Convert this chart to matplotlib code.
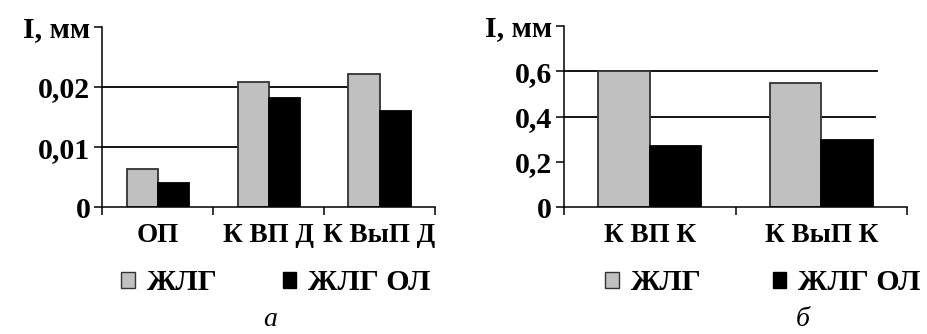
import numpy as np
import matplotlib.pyplot as plt
from matplotlib.patches import Patch

plt.rcParams['font.family'] = ['Liberation Serif', 'DejaVu Serif']
plt.rcParams['font.weight'] = 'bold'
plt.rcParams['font.size'] = 20

# данные (а)
cat_a = ['ОП', 'К ВП Д', 'К ВыП Д']
zhlg_a = [0.0063, 0.0209, 0.0222]
zhlg_ol_a = [0.0040, 0.0181, 0.0160]
yt_a = [0, 0.01, 0.02, 0.03]
ytl_a = ['0', '0,01', '0,02', 'I, мм']

# данные (б)
cat_b = ['К ВП К', 'К ВыП К']
zhlg_b = [0.600, 0.549]
zhlg_ol_b = [0.268, 0.295]
yt_b = [0, 0.2, 0.4, 0.6, 0.8]
ytl_b = ['0', '0,2', '0,4', '0,6', 'I, мм']

series = ['ЖЛГ', 'ЖЛГ ОЛ']
gray = '#c0c0c0'

fig = plt.figure(figsize=(9.28, 3.34), dpi=100)
ax1 = fig.add_axes([0.1102, 0.3793, 0.3585, 0.5407])
ax2 = fig.add_axes([0.6078, 0.3793, 0.3696, 0.5437])


def draw(ax, cats, s1, s2, yt, ytl, w, grid):
    x = np.arange(len(cats))
    for y, xmax in grid:
        ax.axhline(y, xmin=0, xmax=xmax, color='black', lw=1.3, zorder=1)
    ax.bar(x - w / 2, s1, w, color=gray, edgecolor='#333333', lw=1.3, zorder=2)
    ax.bar(x + w / 2, s2, w, color='black', edgecolor='black', lw=1.3, zorder=2)
    ax.set_xlim(-0.5, len(cats) - 0.5)
    ax.set_ylim(yt[0], yt[-1])
    ax.set_yticks(yt)
    ax.set_yticklabels(ytl, fontsize=21.5)
    ax.set_xticks(x)
    ax.set_xticklabels(cats, fontsize=19.5)
    ax.set_xticks(np.arange(len(cats) + 1) - 0.5, minor=True)
    ax.tick_params(axis='x', which='major', length=0, pad=11)
    ax.tick_params(axis='x', which='minor', direction='out', length=5.5, width=1.1)
    ax.tick_params(axis='y', direction='out', length=5.5, width=1.1, pad=3)
    for s in ['top', 'right']:
        ax.spines[s].set_visible(False)
    for s in ['left', 'bottom']:
        ax.spines[s].set_linewidth(1.1)


draw(ax1, cat_a, zhlg_a, zhlg_ol_a, yt_a, ytl_a, 0.28, [(0.01, 0.404), (0.02, 0.735)])
draw(ax2, cat_b, zhlg_b, zhlg_ol_b, yt_b, ytl_b, 0.30, [(0.4, 0.906), (0.6, 0.912)])

handles = [Patch(facecolor=gray, edgecolor='#333333', lw=1.0),
           Patch(facecolor='black', edgecolor='black', lw=1.0)]
for ax, cx, cs in [(ax1, 276 / 928, 2.2), (ax2, 763 / 928, 2.4)]:
    fig.legend(handles, series, loc='center', bbox_to_anchor=(cx, 0.153), ncol=2,
               frameon=False, handlelength=0.45, handleheight=0.45,
               handletextpad=0.4, columnspacing=cs, borderpad=0, borderaxespad=0,
               prop={'size': 21.5, 'weight': 'bold'})

fig.text(270 / 928, 1 - 319 / 334, 'а', style='italic', fontweight='normal',
         ha='center', va='center', fontsize=20)
fig.text(803 / 928, 1 - 319 / 334, 'б', style='italic', fontweight='normal',
         ha='center', va='center', fontsize=20)

plt.savefig('out.png', dpi=100)
